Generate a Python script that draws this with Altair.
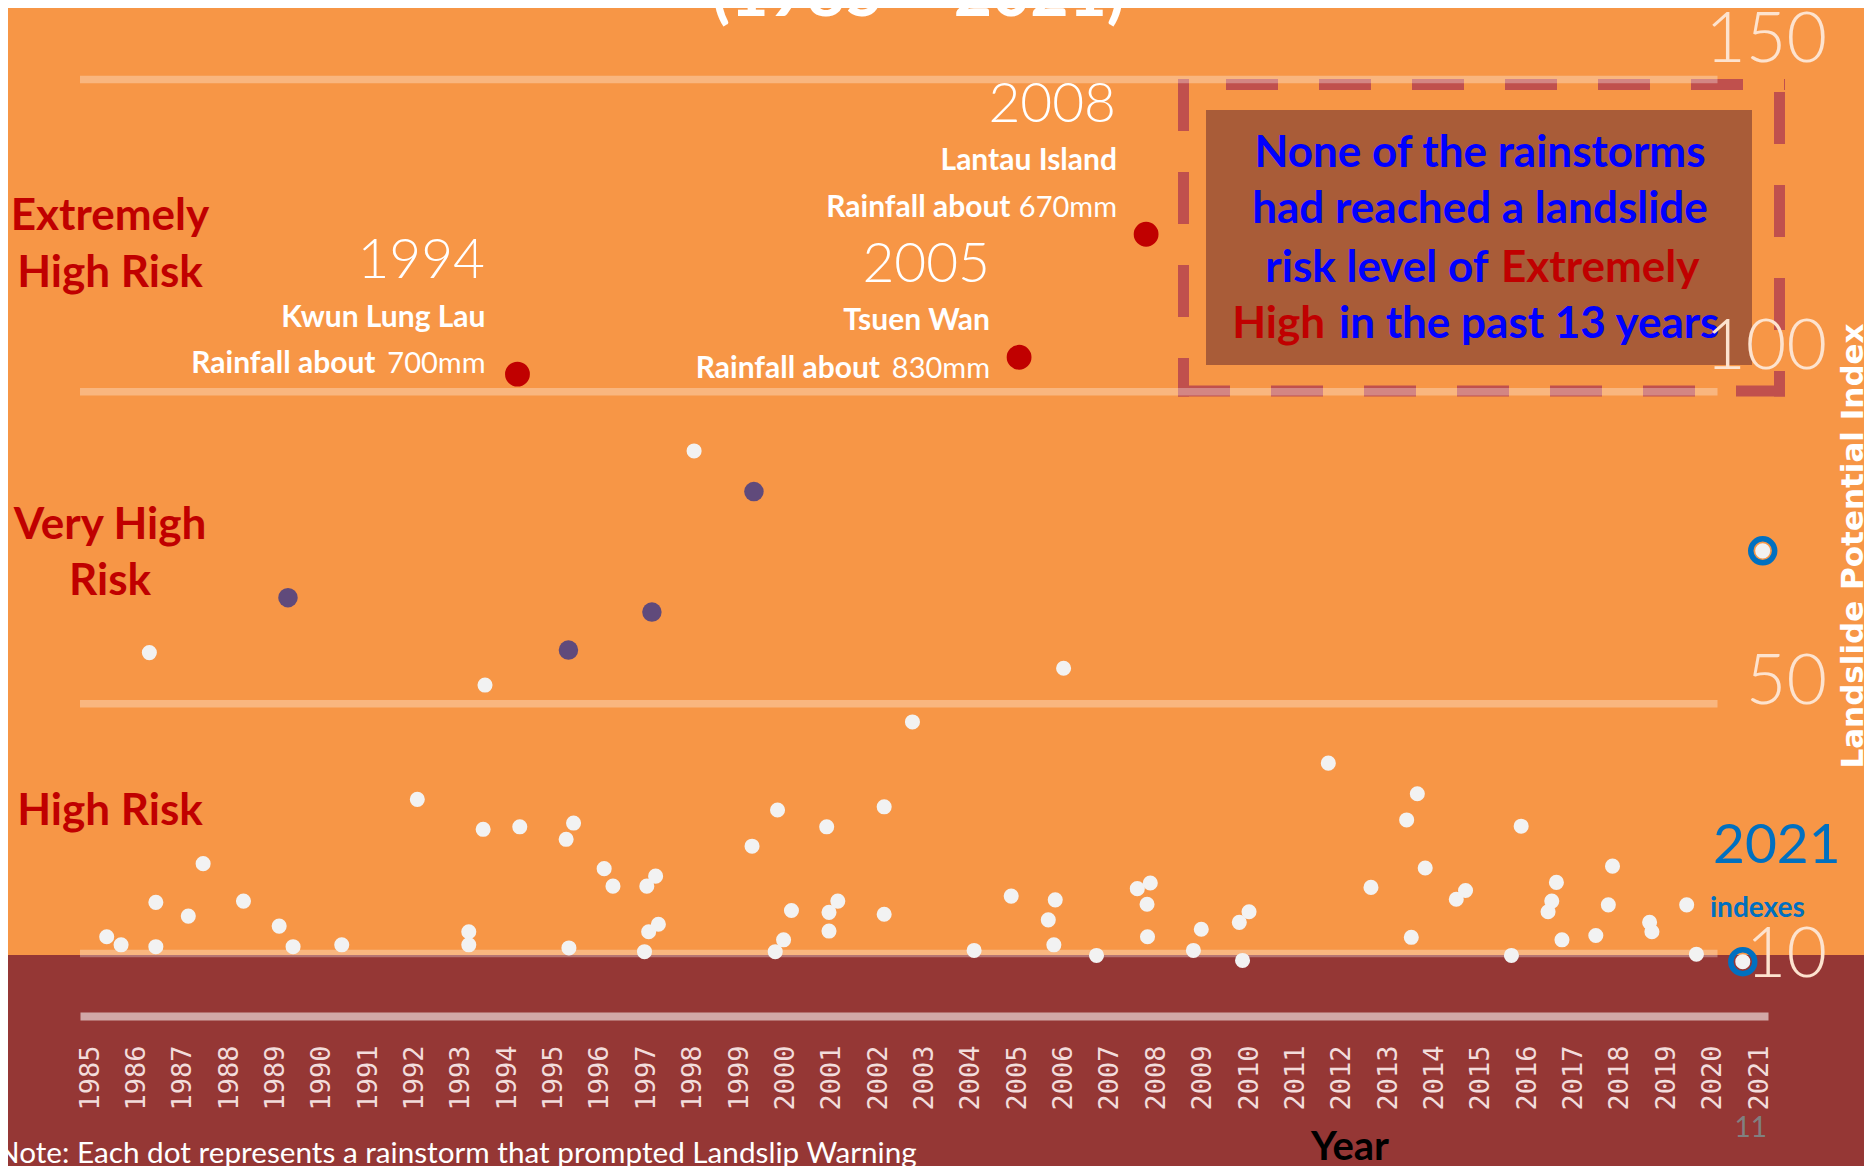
import altair as alt
import pandas as pd

# ---------------- data ----------------
white_year = [
    1985.36, 1985.67, 1986.28, 1986.42, 1986.42, 1987.12, 1987.44, 1988.31, 1989.08, 1989.38,
    1990.43, 1992.06, 1993.17, 1993.17, 1993.48, 1993.52, 1994.27, 1995.27, 1995.33, 1995.43,
    1996.09, 1996.28, 1996.96, 1997.01, 1997.05, 1997.20, 1997.26, 1998.03, 1999.28, 1999.78,
    1999.83, 1999.96, 2000.13, 2000.89, 2000.94, 2000.94, 2001.13, 2002.13, 2002.13, 2002.74,
    2004.07, 2004.87, 2005.67, 2005.79, 2005.82, 2006.00, 2006.71, 2007.59, 2007.80, 2007.81,
    2007.87, 2008.80, 2008.97, 2009.79, 2009.86, 2010.00, 2011.71, 2012.63, 2013.40, 2013.50,
    2013.63, 2013.80, 2014.47, 2014.67, 2015.66, 2015.87, 2016.45, 2016.53, 2016.63, 2016.75,
    2017.48, 2017.75, 2017.84, 2018.64, 2018.69, 2019.44, 2019.65, 2020.65, 2021.08]
white_value = [
    12.7, 11.4, 58.2, 18.2, 11.1, 16.0, 24.4, 18.4, 14.4, 11.1,
    11.4, 34.7, 13.5, 11.4, 29.9, 53.0, 30.3, 28.3, 10.9, 30.9,
    23.6, 20.8, 10.3, 20.8, 13.5, 22.4, 14.7, 90.5, 27.2, 10.3,
    33.0, 12.2, 16.9, 30.3, 16.6, 13.6, 18.4, 33.5, 16.3, 47.1,
    10.5, 19.2, 15.4, 11.4, 18.6, 55.7, 9.7, 20.4, 17.9, 12.7,
    21.3, 10.5, 13.9, 15.0, 8.9, 16.7, 40.5, 20.6, 31.4, 12.6,
    35.6, 23.7, 18.7, 20.1, 9.7, 30.4, 16.7, 18.4, 21.4, 12.2,
    12.9, 17.8, 24.0, 15.0, 13.5, 17.8, 9.9, 8.7, 74.5]

purple_year = [1989.27, 1995.32, 1997.12, 1999.32]
purple_value = [67.0, 58.6, 64.7, 84.0]

red_year = [1994.22, 2005.04, 2007.78]
red_value = [102.8, 105.5, 125.2]

ring_year = [2021.08, 2020.65]
ring_value = [74.5, 8.7]

year_ticks = list(range(1985, 2022))
index_ticks = [10, 50, 100, 150]
grid_levels = [10, 50, 100, 150]

# ---------------- layout ----------------
W, H = 1688, 999
PAD = {"left": 72, "top": 9, "right": 96, "bottom": 150}
X_MIN, X_MAX = 1984.784, 2021.194
GRID_END = 2020.105
BAND_TOP = 9.75

xs = alt.Scale(domain=[X_MIN, X_MAX], nice=False, zero=False)
ys = alt.Scale(domain=[0, 160], nice=False, zero=False)

BLANK = alt.Data(values=[{"k": 0}])

ORANGE = "#F79646"
DARKRED = "#953735"
RISKRED = "#C00000"
BLUE = "#0000FF"
OBLUE = "#0070C0"
FRAME = "#C0504D"


def label(text, x, y, size, color="white", weight="normal", align="left",
          font="Lato", angle=None, baseline="alphabetic"):
    kw = dict(text=text, fontSize=size, color=color, fontWeight=weight,
              align=align, font=font, baseline=baseline)
    if angle is not None:
        kw["angle"] = angle
    return alt.Chart(BLANK).mark_text(**kw).encode(x=alt.value(x), y=alt.value(y))


def dash_edge(x1, y1, x2, y2, offset):
    return alt.Chart(BLANK).mark_rule(
        color=FRAME, strokeWidth=11, strokeDash=[52, 41], strokeDashOffset=offset,
        strokeCap="butt").encode(
        x=alt.value(x1), x2=alt.value(x2), y=alt.value(y1), y2=alt.value(y2))


x_axis = alt.Axis(values=year_ticks, format="d", labelAngle=270, labelAlign="right",
                  labelBaseline="middle", labelFont="DejaVu Sans Mono", labelFontSize=27,
                  labelColor="#F2DCDB", labelPadding=29, ticks=False, tickSize=0,
                  domainColor="white", domainOpacity=0.57, domainWidth=8, grid=False,
                  title=None, labelOverlap=False, labelFlush=False, zindex=1)


def X(field):
    return alt.X(field, scale=xs, axis=x_axis)


def Y(field):
    return alt.Y(field, scale=ys, axis=None)


# background band (dark red)
band_df = pd.DataFrame({"top": [BAND_TOP]})
band = alt.Chart(band_df).mark_rect(color=DARKRED).encode(
    x=alt.value(-PAD["left"]), x2=alt.value(W + PAD["right"]),
    y=Y("top:Q"), y2=alt.value(H + PAD["bottom"]))

# dashed annotation frame (four edges) and brown box
FX1, FX2, FY1, FY2 = 1103.5, 1699.5, 67.5, 374
frame = [
    dash_edge(FX1 - 5.5, FY1, FX2 + 5.5, FY1, 45),   # top
    dash_edge(FX2, FY1 - 5.5, FX2, FY2 + 5.5, 80),   # right
    dash_edge(FX1 - 5.5, FY2, FX2 + 5.5, FY2, 0),    # bottom
    dash_edge(FX1, FY1 - 5.5, FX1, FY2 + 5.5, 0),    # left
]
brown = alt.Chart(BLANK).mark_rect(color="#A95C38").encode(
    x=alt.value(1126), x2=alt.value(1672), y=alt.value(93), y2=alt.value(348))

# gridlines
grid_df = pd.DataFrame({"v": grid_levels, "start": [X_MIN] * len(grid_levels),
                        "end": [GRID_END] * len(grid_levels)})
grid = alt.Chart(grid_df).mark_rule(color="white", opacity=0.31, strokeWidth=7.5).encode(
    x=X("start:Q"), x2="end:Q", y=Y("v:Q"))

# right-hand index labels (placed through the y scale)
label_shift = {150: -17, 100: -23, 50: 0, 10: 23}
ylabels = []
for v in index_ticks:
    ylabels.append(
        alt.Chart(pd.DataFrame({"v": [v], "t": [str(v)]})).mark_text(
            font="Lato", fontWeight=300, fontSize=70, color="#FDE3CF",
            align="right", baseline="alphabetic", dy=label_shift[v]).encode(
            x=alt.value(W + 59), y=Y("v:Q"), text="t:N"))

# dots
white_df = pd.DataFrame({"year": white_year, "index": white_value})
white = alt.Chart(white_df).mark_circle(size=227, color="#F2F2F2", opacity=1).encode(
    x=X("year:Q"), y=Y("index:Q"))

purple_df = pd.DataFrame({"year": purple_year, "index": purple_value})
purple = alt.Chart(purple_df).mark_circle(size=380, color="#604A7B", opacity=1).encode(
    x=X("year:Q"), y=Y("index:Q"))

red_df = pd.DataFrame({"year": red_year, "index": red_value})
red = alt.Chart(red_df).mark_circle(size=616, color=RISKRED, opacity=1).encode(
    x=X("year:Q"), y=Y("index:Q"))

ring_df = pd.DataFrame({"year": ring_year, "index": ring_value})
ring = alt.Chart(ring_df).mark_point(size=573, shape="circle", filled=False,
                                      stroke=OBLUE, strokeWidth=5.5, opacity=1).encode(
    x=X("year:Q"), y=Y("index:Q"))

# texts
texts = [
    label("(1985 – 2021)", 838.5, -1, 66, weight="bold", align="center"),
    # risk levels
    label("Extremely", 30, 213, 44, RISKRED, "bold", "center"),
    label("High Risk", 30, 270, 44, RISKRED, "bold", "center"),
    label("Very High", 30, 522, 44, RISKRED, "bold", "center"),
    label("Risk", 30, 578, 44, RISKRED, "bold", "center"),
    label("High Risk", 30, 808, 44, RISKRED, "bold", "center"),
    # 1994
    label("1994", 405, 261, 55, weight=300, align="right"),
    label("Kwun Lung Lau", 405.5, 310, 30, weight="bold", align="right"),
    label("Rainfall about", 295.5, 356, 30, weight="bold", align="right"),
    label("700mm", 405.5, 356, 29, weight="normal", align="right"),
    # 2005
    label("2005", 910, 265, 55, weight=300, align="right"),
    label("Tsuen Wan", 910, 313, 30, weight="bold", align="right"),
    label("Rainfall about", 800, 361, 30, weight="bold", align="right"),
    label("830mm", 910, 361, 29, weight="normal", align="right"),
    # 2008
    label("2008", 1036, 105, 55, weight=300, align="right"),
    label("Lantau Island", 1037, 153, 30, weight="bold", align="right"),
    label("Rainfall about", 930.5, 200, 30, weight="bold", align="right"),
    label("670mm", 1037, 200, 29, weight="normal", align="right"),
    # 2021 legend
    label("2021", 1633, 846, 55, OBLUE, "normal", "left"),
    label("indexes", 1630, 900, 28, OBLUE, "bold", "left"),
    # axis title & footer
    label("Landslide Potential Index", 1783, 529, 31, weight="bold", align="center",
          angle=270, font="DejaVu Sans"),
    label("Year", 1270, 1143, 40, "black", "bold", "center"),
    label("Note: Each dot represents a rainstorm that prompted Landslip Warning",
          -83, 1146, 29.7, weight="normal", align="left"),
    label("11", 1687, 1120, 28, "#808080", "normal", "right"),
]

box_text = [
    label("None of the rainstorms", 1400, 150, 44, BLUE, "bold", "center"),
    label("had reached a landslide", 1400, 206, 44, BLUE, "bold", "center"),
    label("risk level of", 1408.5, 265, 44, BLUE, "bold", "right"),
    label("Extremely", 1421, 265, 44, RISKRED, "bold", "left"),
    label("High", 1245, 321, 44, RISKRED, "bold", "right"),
    label("in the past 13 years", 1259, 321, 44, BLUE, "bold", "left"),
]

chart = alt.layer(
    band, *frame, brown, grid, *texts, white, purple, red, ring, *box_text, *ylabels
).properties(
    width=W, height=H, padding=PAD,
    autosize=alt.AutoSizeParams(type="none"),
    background=ORANGE,
).configure_view(stroke=None)

chart.save("out.html", embed_options={"renderer": "svg", "actions": False})
